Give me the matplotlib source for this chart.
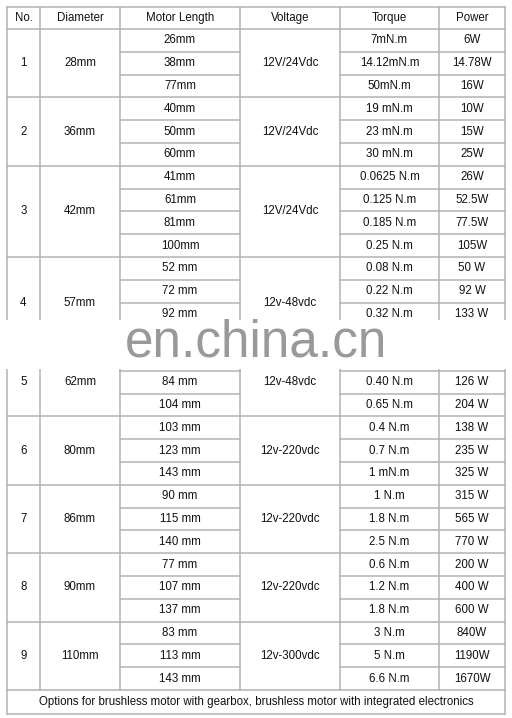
import matplotlib
matplotlib.use('Agg')
import matplotlib.pyplot as plt
from matplotlib.patches import Rectangle

plt.rcParams['font.family'] = ['Liberation Sans', 'DejaVu Sans']

headers = ['No.', 'Diameter', 'Motor Length', 'Voltage', 'Torque', 'Power']
numbers = ['1', '2', '3', '4', '5', '6', '7', '8', '9']
diameters = ['28mm', '36mm', '42mm', '57mm', '62mm', '80mm', '86mm', '90mm', '110mm']
voltages = ['12V/24Vdc', '12V/24Vdc', '12V/24Vdc', '12v-48vdc', '12v-48vdc',
            '12v-220vdc', '12v-220vdc', '12v-220vdc', '12v-300vdc']
lengths = [
    ['26mm', '38mm', '77mm'],
    ['40mm', '50mm', '60mm'],
    ['41mm', '61mm', '81mm', '100mm'],
    ['52 mm', '72 mm', '92 mm', '112 mm'],
    ['64 mm', '84 mm', '104 mm'],
    ['103 mm', '123 mm', '143 mm'],
    ['90 mm', '115 mm', '140 mm'],
    ['77 mm', '107 mm', '137 mm'],
    ['83 mm', '113 mm', '143 mm'],
]
torques = [
    ['7mN.m', '14.12mN.m', '50mN.m'],
    ['19 mN.m', '23 mN.m', '30 mN.m'],
    ['0.0625 N.m', '0.125 N.m', '0.185 N.m', '0.25 N.m'],
    ['0.08 N.m', '0.22 N.m', '0.32 N.m', '0.44 N.m'],
    ['0.30 N.m', '0.40 N.m', '0.65 N.m'],
    ['0.4 N.m', '0.7 N.m', '1 mN.m'],
    ['1 N.m', '1.8 N.m', '2.5 N.m'],
    ['0.6 N.m', '1.2 N.m', '1.8 N.m'],
    ['3 N.m', '5 N.m', '6.6 N.m'],
]
powers = [
    ['6W', '14.78W', '16W'],
    ['10W', '15W', '25W'],
    ['26W', '52.5W', '77.5W', '105W'],
    ['50 W', '92 W', '133 W', '176 W'],
    ['95 W', '126 W', '204 W'],
    ['138 W', '235 W', '325 W'],
    ['315 W', '565 W', '770 W'],
    ['200 W', '400 W', '600 W'],
    ['840W', '1190W', '1670W'],
]
footer = 'Options for brushless motor with gearbox, brushless motor with integrated electronics'

# layout in pixels
W, H = 512, 718
cols = [7, 40, 120, 240, 340, 439, 505]
top, head_bot = 7, 29
n_rows = sum(len(g) for g in lengths)
foot_top, bottom = 690, 714
rh = (foot_top - head_bot) / n_rows
line_c = '#b4b4ac'
fs = 8.3

fig = plt.figure(figsize=(W / 100, H / 100), dpi=100)
ax = fig.add_axes([0, 0, 1, 1])
ax.set_xlim(0, W)
ax.set_ylim(H, 0)
ax.axis('off')


def hline(y, x0, x1):
    ax.plot([x0, x1], [y, y], color=line_c, lw=1.1)


def vline(x, y0, y1):
    ax.plot([x, x], [y0, y1], color=line_c, lw=1.1)


def cell_text(ci, y, s):
    ax.text((cols[ci] + cols[ci + 1]) / 2, y, s, ha='center', va='center',
            fontsize=fs, color='#111111')


# outer frame and header
hline(top, cols[0], cols[-1])
hline(head_bot, cols[0], cols[-1])
for i, h in enumerate(headers):
    cell_text(i, (top + head_bot) / 2, h)
for x in cols:
    vline(x, top, foot_top)

y = head_bot
for g in range(len(lengths)):
    k = len(lengths[g])
    y1 = y + k * rh
    mid = (y + y1) / 2
    cell_text(0, mid, numbers[g])
    cell_text(1, mid, diameters[g])
    cell_text(3, mid, voltages[g])
    for r in range(k):
        ry = y + (r + 0.5) * rh
        cell_text(2, ry, lengths[g][r])
        cell_text(4, ry, torques[g][r])
        cell_text(5, ry, powers[g][r])
        if r < k - 1:
            yy = y + (r + 1) * rh
            hline(yy, cols[2], cols[3])
            hline(yy, cols[4], cols[6])
    hline(y1, cols[0], cols[-1])
    y = y1

# footer row
vline(cols[0], foot_top, bottom)
vline(cols[-1], foot_top, bottom)
hline(bottom, cols[0], cols[-1])
ax.text((cols[0] + cols[-1]) / 2, (foot_top + bottom) / 2, footer,
        ha='center', va='center', fontsize=fs, color='#111111')

# watermark band covering part of groups 4 and 5
ax.add_patch(Rectangle((0, 320), W, 49, facecolor='white', alpha=1.0,
                       edgecolor='none', zorder=5))
ax.text(256, 343, 'en.china.cn', ha='center', va='center', fontsize=37,
        color='#999999', zorder=6)

fig.savefig('out.png', dpi=100, facecolor='white')
